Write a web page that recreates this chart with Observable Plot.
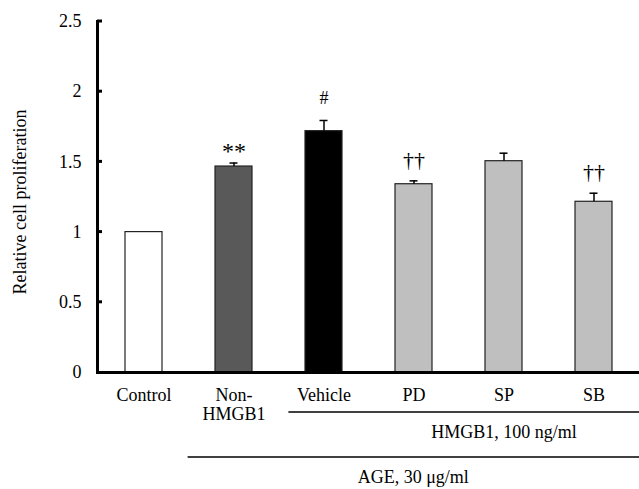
<!DOCTYPE html>
<html><head><meta charset="utf-8">
<script src="https://cdn.jsdelivr.net/npm/d3@7"></script>
<script src="https://cdn.jsdelivr.net/npm/@observablehq/plot@0.6"></script>
<style>body{margin:0;background:#fff}</style>
</head><body><div id="chart"></div>
<script>
const categories = ["Control", "Non-HMGB1", "Vehicle", "PD", "SP", "SB"];
const tickLabels = ["Control", "Non-\nHMGB1", "Vehicle", "PD", "SP", "SB"];
const means = [1.0, 1.467, 1.719, 1.341, 1.505, 1.216];
const errors = [0, 0.025, 0.076, 0.024, 0.057, 0.061];
const fills = ["#ffffff", "#595959", "#000000", "#bfbfbf", "#bfbfbf", "#bfbfbf"];
const signif = ["", "**", "#", "††", "", "††"];
const yTicks = [0, 0.5, 1, 1.5, 2, 2.5];
const yLabel = "Relative cell proliferation";
const group1Label = "HMGB1, 100 ng/ml";
const group2Label = "AGE, 30 μg/ml";

const rows = categories.map((c, i) => ({
  cat: c, label: tickLabels[i], mean: means[i], err: errors[i],
  top: means[i] + errors[i], fill: fills[i], sig: signif[i]
}));
const font = "'Liberation Serif', 'Times New Roman', serif";
const W = 639, H = 489, mL = 97, mT = 21, mB = 117;

const plot = Plot.plot({
  width: W, height: H,
  marginLeft: mL, marginRight: 0, marginTop: mT, marginBottom: mB,
  style: {fontFamily: font, fontSize: "18px", color: "#000", background: "#fff"},
  x: {domain: categories, paddingInner: 0.59, paddingOuter: 0.295, align: 0.5, axis: null},
  y: {domain: [0, 2.5], axis: null},
  marks: [
    Plot.barY(rows, {x: "cat", y: "mean", fill: "fill", stroke: "#222", strokeWidth: 1.2}),
    Plot.ruleX(rows.filter(d => d.err > 0), {x: "cat", y1: "mean", y2: "top", stroke: "#000", strokeWidth: 1.5}),
    Plot.tickY(rows.filter(d => d.err > 0), {x: "cat", y: "top", stroke: "#000", strokeWidth: 1.5, insetLeft: 14.5, insetRight: 14.5}),
    Plot.text(rows.filter(d => d.sig === "**"), {x: "cat", y: "top", text: "sig", fontSize: 24, dy: -12}),
    Plot.text(rows.filter(d => d.sig === "#"), {x: "cat", y: "top", text: "sig", fontSize: 18, dy: -22}),
    Plot.text(rows.filter(d => d.sig === "††"), {x: "cat", y: "top", text: "sig", fontSize: 22, dy: -21}),
    Plot.axisY({ticks: yTicks, tickSize: 0, tickPadding: 16, fontSize: 18, label: null, tickFormat: d3.format("~g")}),
    Plot.text(rows, {x: "cat", text: "label", frameAnchor: "bottom", dy: 14, lineAnchor: "top", lineHeight: 1.1, fontSize: 18}),
    Plot.text([group1Label], {x: () => "SP", text: d => d, frameAnchor: "bottom", dy: 65, fontSize: 18}),
    Plot.text([yLabel], {frameAnchor: "left", text: d => d, rotate: -90, textAnchor: "middle", dx: -77, dy: 5, fontSize: 18}),
    Plot.frame({anchor: "left", stroke: "#000", strokeWidth: 3}),
    Plot.ruleY([0], {stroke: "#000", strokeWidth: 3})
  ]
});
document.getElementById("chart").append(plot);

// inward y ticks and group brackets, positioned from Plot's scales
const xs = plot.scale("x"), ys = plot.scale("y");
const svg = d3.select(plot);
const step = xs.step, bw = xs.bandwidth;
const cx = c => xs.apply(c) + bw / 2;
svg.append("g").selectAll("line").data(yTicks.filter(v => v > 0)).join("line")
  .attr("x1", mL).attr("x2", mL + 5)
  .attr("y1", v => ys.apply(v)).attr("y2", v => ys.apply(v))
  .attr("stroke", "#000").attr("stroke-width", 3);
const base = ys.apply(0);
const g1x = cx("Vehicle") - 0.39 * step;
const g2x = cx("Non-HMGB1") - 0.51 * step;
svg.append("line").attr("x1", g1x).attr("x2", W).attr("y1", base + 40).attr("y2", base + 40)
  .attr("stroke", "#000").attr("stroke-width", 1.5);
svg.append("line").attr("x1", g2x).attr("x2", W).attr("y1", base + 85).attr("y2", base + 85)
  .attr("stroke", "#000").attr("stroke-width", 1.5);
svg.append("text").attr("x", (g2x + W) / 2).attr("y", base + 111)
  .attr("text-anchor", "middle").style("font-family", font).style("font-size", "18px")
  .attr("fill", "#000").text(group2Label);
</script>
</body></html>
